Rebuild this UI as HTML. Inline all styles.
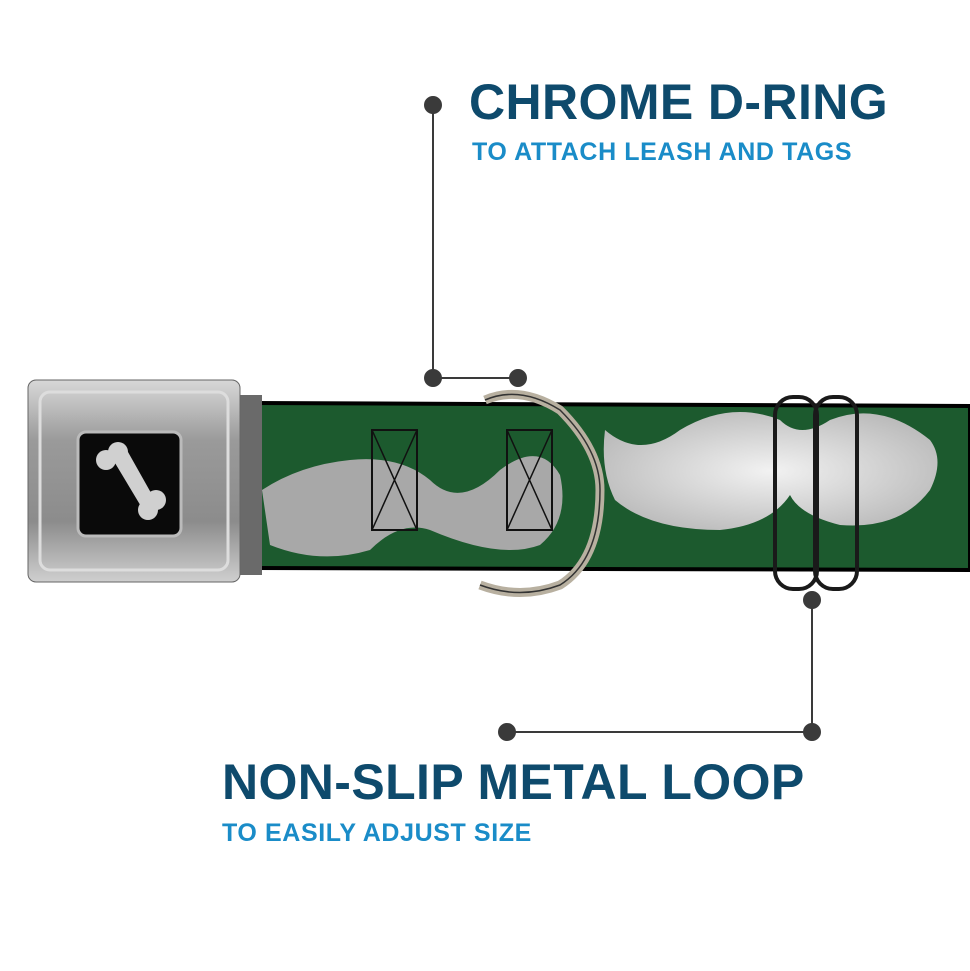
<!DOCTYPE html>
<html><head><style>
body{margin:0;width:970px;height:971px;background:#fff;position:relative;overflow:hidden;font-family:"Liberation Sans",sans-serif}
.t{position:absolute;font-weight:bold;white-space:nowrap}
</style></head><body>
<svg width="970" height="971" style="position:absolute;left:0;top:0">
<defs>
<linearGradient id="bk" x1="0" y1="0" x2="0" y2="1">
<stop offset="0" stop-color="#d8d8d8"/><stop offset="0.3" stop-color="#9a9a9a"/><stop offset="0.7" stop-color="#8c8c8c"/><stop offset="1" stop-color="#cfcfcf"/></linearGradient>
<radialGradient id="ms" cx="0.5" cy="0.5" r="0.6"><stop offset="0" stop-color="#f2f2f2"/><stop offset="1" stop-color="#b8b8b8"/></radialGradient>
</defs>
<path d="M250 403 L970 406 L970 570 L250 568 Q240 485 250 403Z" fill="#1c5a2e" stroke="#000" stroke-width="4"/>
<rect x="222" y="395" width="40" height="180" fill="#6a6a6a"/>
<path d="M262 490 Q300 465 350 460 Q400 455 430 480 Q460 510 500 470 Q540 440 560 475 Q570 520 540 545 Q500 560 430 530 Q400 520 370 550 Q320 565 270 545 Z" fill="#a8a8a8"/>
<path d="M605 430 Q640 460 680 430 Q730 400 780 420 Q800 440 830 420 Q880 400 930 440 Q945 460 930 490 Q900 530 840 525 Q800 515 790 495 Q770 525 720 530 Q650 530 615 500 Q600 470 605 430Z" fill="url(#ms)"/>
<rect x="372" y="430" width="45" height="100" fill="none" stroke="#111" stroke-width="2"/>
<path d="M372 430 L417 530 M417 430 L372 530" stroke="#111" stroke-width="1.5"/>
<rect x="507" y="430" width="45" height="100" fill="none" stroke="#111" stroke-width="2"/>
<path d="M507 430 L552 530 M552 430 L507 530" stroke="#111" stroke-width="1.5"/>
<path d="M485 400 Q520 385 560 410 Q600 450 600 490 Q600 560 560 585 Q520 600 480 585" fill="none" stroke="#b8b0a0" stroke-width="9"/>
<path d="M485 400 Q520 385 560 410 Q600 450 600 490 Q600 560 560 585 Q520 600 480 585" fill="none" stroke="#333" stroke-width="1.5"/>
<rect x="775" y="397" width="42" height="192" rx="18" fill="none" stroke="#1a1a1a" stroke-width="4"/>
<rect x="815" y="397" width="42" height="192" rx="18" fill="none" stroke="#1a1a1a" stroke-width="4"/>
<rect x="28" y="380" width="212" height="202" rx="8" fill="url(#bk)" stroke="#666"/>
<rect x="40" y="392" width="188" height="178" rx="10" fill="none" stroke="#ddd" stroke-width="3"/>
<rect x="78" y="432" width="103" height="104" rx="8" fill="#0a0a0a" stroke="#bbb" stroke-width="3"/>
<g fill="#d0d0d0">
<circle cx="106" cy="460" r="10"/><circle cx="118" cy="452" r="10"/>
<circle cx="148" cy="510" r="10"/><circle cx="156" cy="500" r="10"/>
<path d="M112 458 L128 452 L155 500 L142 508Z"/>
</g>
<g stroke="#3a3a3a" stroke-width="2" fill="#3a3a3a">
<line x1="433" y1="105" x2="433" y2="378"/><line x1="433" y1="378" x2="518" y2="378"/>
<line x1="812" y1="600" x2="812" y2="732"/><line x1="507" y1="732" x2="812" y2="732"/>
<circle cx="433" cy="105" r="8"/><circle cx="433" cy="378" r="8"/><circle cx="518" cy="378" r="8"/>
<circle cx="812" cy="600" r="8"/><circle cx="812" cy="732" r="8"/><circle cx="507" cy="732" r="8"/>
</g>
</svg>
<div class="t" style="left:469px;top:73px;font-size:50px;color:#0e4a6c;letter-spacing:0.4px">CHROME D-RING</div>
<div class="t" style="left:472px;top:138px;font-size:25px;color:#1a8cc8;letter-spacing:0.6px">TO ATTACH LEASH AND TAGS</div>
<div class="t" style="left:222px;top:753px;font-size:50px;color:#0e4a6c;letter-spacing:0.4px">NON-SLIP METAL LOOP</div>
<div class="t" style="left:222px;top:819px;font-size:25px;color:#1a8cc8;letter-spacing:0.6px">TO EASILY ADJUST SIZE</div>
</body></html>
